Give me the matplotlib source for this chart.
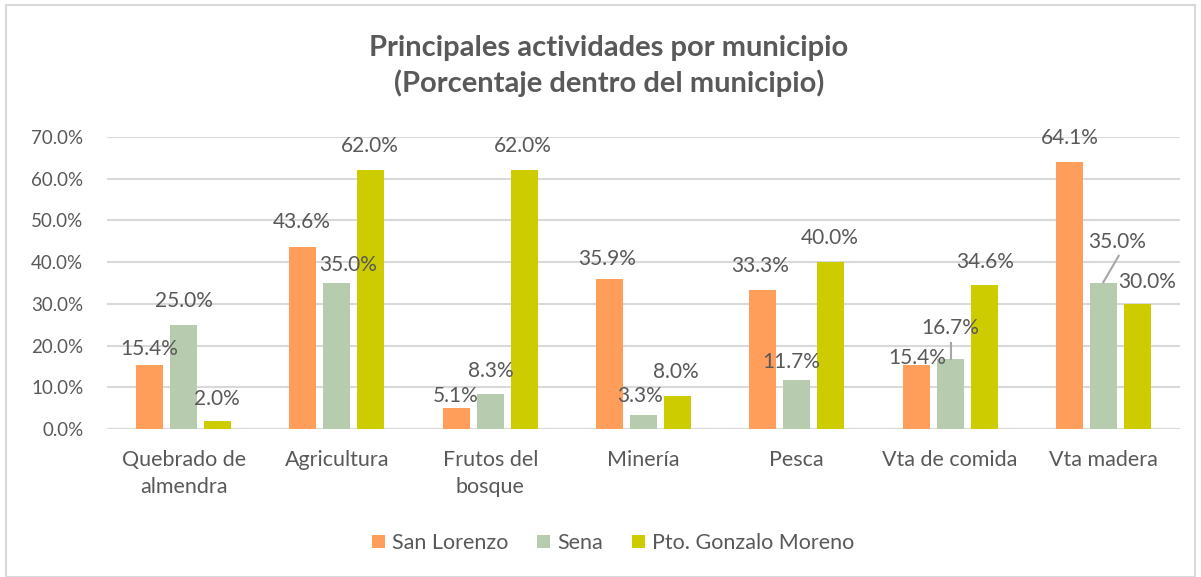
import matplotlib
matplotlib.use("Agg")
import matplotlib.pyplot as plt
import numpy as np
from matplotlib.patches import Rectangle

categories = ["Quebrado de\nalmendra", "Agricultura", "Frutos del\nbosque", "Minería",
              "Pesca", "Vta de comida", "Vta madera"]
series_names = ["San Lorenzo", "Sena", "Pto. Gonzalo Moreno"]
san_lorenzo = [15.4, 43.6, 5.1, 35.9, 33.3, 15.4, 64.1]
sena = [25.0, 35.0, 8.3, 3.3, 11.7, 16.7, 35.0]
gonzalo = [2.0, 62.0, 62.0, 8.0, 40.0, 34.6, 30.0]
yticks = [0, 10, 20, 30, 40, 50, 60, 70]

colors = ["#FF9E5A", "#B7CCAF", "#CCCC00"]
text_color = "#595959"
font = ["Lato", "DejaVu Sans"]

# label offsets in pixels (dx, dy) relative to bar top centre
offsets = [
    [(0, 16), (-1, 25), (-1, 12), (-2, 20), (-3, 24), (1, 7), (0, 24)],
    [(0, 24), (11, 18), (1, 23), (-3, 19), (-6, 18), (0, 31), (14, 41)],
    [(-1, 22), (-1, 24), (-1, 24), (-2, 24), (-1, 24), (1, 23), (10, 22)],
]
leaders = {(1, 5), (1, 6)}

W, H = 1201, 577
fig = plt.figure(figsize=(W / 100, H / 100), dpi=100)
ax = fig.add_axes([107 / W, 1 - 429 / H, (1180 - 107) / W, (429 - 137) / H])

data = [san_lorenzo, sena, gonzalo]
x = np.arange(len(categories))
step = 0.222
bw = 0.176
for s, (vals, c) in enumerate(zip(data, colors)):
    xs = x + (s - 1) * step
    ax.bar(xs, vals, width=bw, color=c, label=series_names[s], zorder=3)
    for i, v in enumerate(vals):
        dx, dy = offsets[s][i]
        ax.annotate(f"{v:.1f}%", (xs[i], v), xytext=(dx, dy), textcoords="offset pixels",
                    ha="center", va="center", fontsize=15, color=text_color,
                    family=font, zorder=5)
        if (s, i) in leaders:
            if i == 5:
                ax.plot([xs[i] + 0.005, xs[i] + 0.005], [v + 0.2, v + 4.0],
                        color="#A6A6A6", lw=1.5, zorder=4)
            else:
                ax.plot([xs[i], xs[i] + 0.10], [v + 0.2, v + 6.5],
                        color="#A6A6A6", lw=1.5, zorder=4)

ax.set_xlim(-0.5, len(categories) - 0.5)
ax.set_ylim(0, 70)
ax.set_yticks(yticks)
ax.set_yticklabels([f"{t:.1f}%" for t in yticks], family=font, fontsize=13.5)
ax.set_xticks(x)
ax.set_xticklabels(categories, family=font, linespacing=1.45, fontsize=15.5)
ax.tick_params(axis="both", length=0, colors=text_color)
ax.tick_params(axis="y", pad=17)
ax.tick_params(axis="x", pad=15)
ax.grid(axis="y", color="#D9D9D9", lw=1.5, zorder=0)
for sp in ax.spines.values():
    sp.set_visible(False)
ax.axhline(0, color="#D9D9D9", lw=1.5, zorder=1)

fig.text(609 / W, 1 - 66 / H, "Principales actividades por municipio\n(Porcentaje dentro del municipio)",
         ha="center", va="center", fontsize=21, fontweight="bold", color=text_color,
         family=font, linespacing=1.4)

leg = fig.legend(loc="center", bbox_to_anchor=(613 / W, 1 - 543 / H), ncol=3, frameon=False,
                 prop={"family": font, "size": 15.5}, handlelength=0.6, handleheight=0.6,
                 columnspacing=1.35, handletextpad=0.33, borderpad=0)
for t in leg.get_texts():
    t.set_color(text_color)

fig.patches.append(Rectangle((6 / W, 0), (W - 12) / W, 1 - 5 / H, transform=fig.transFigure,
                             fill=False, edgecolor="#D9D9D9", lw=1.5))

fig.savefig("out.png", dpi=100, facecolor="white")
